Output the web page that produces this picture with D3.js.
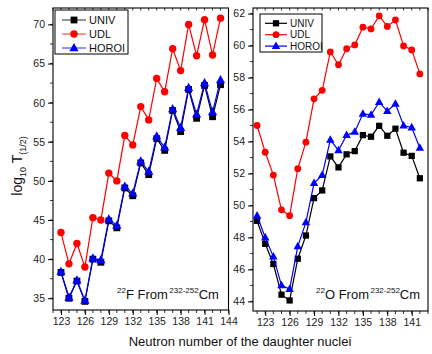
<!DOCTYPE html>
<html><head><meta charset="utf-8">
<script src="https://cdn.jsdelivr.net/npm/d3@7"></script>
<style>body{margin:0;background:#fff}svg{display:block}text{font-family:"Liberation Sans",Arial,sans-serif}</style>
</head><body><svg id="c" width="432" height="354"></svg>
<script>
// ---- data ----
const seriesNames = ["UNIV", "UDL", "HOROI"];
const nLeft = [123,124,125,126,127,128,129,130,131,132,133,134,135,136,137,138,139,140,141,142,143];
const leftUNIV  = [38.3,35.0,37.2,34.6,40.0,39.6,44.9,44.0,49.1,48.1,52.3,50.8,55.4,53.9,59.0,56.3,61.7,58.0,62.2,58.2,62.3];
const leftUDL   = [43.4,39.4,42.0,39.0,45.3,45.0,51.0,50.0,55.8,54.6,59.5,57.8,63.1,61.4,66.9,64.1,70.0,66.0,70.6,66.1,70.8];
const leftHOROI = [38.4,35.1,37.3,34.7,40.1,39.9,45.1,44.3,49.3,48.4,52.5,51.2,55.7,54.3,59.2,56.8,61.9,58.5,62.5,58.8,62.9];
const nRight = [122,123,124,125,126,127,128,129,130,131,132,133,134,135,136,137,138,139,140,141,142];
const rightUNIV  = [49.04,47.6,46.34,44.42,44.06,46.67,48.12,50.46,50.94,53.07,52.38,53.2,53.4,54.4,54.3,54.98,54.36,54.8,53.3,53.1,51.7];
const rightUDL   = [55.0,53.33,51.9,49.73,49.36,52.3,53.96,56.67,57.2,59.6,58.8,59.8,60.04,61.15,61.04,61.86,61.2,61.6,59.98,59.73,58.23];
const rightHOROI = [49.36,48.0,46.8,45.0,44.77,47.44,48.94,51.4,51.9,54.1,53.45,54.4,54.6,55.73,55.67,56.46,55.9,56.36,55.0,54.88,53.6];
const leftYTicks = [35,40,45,50,55,60,65,70];
const rightYTicks = [44,46,48,50,52,54,56,58,60,62];
const xTicksLeft = [123,126,129,132,135,138,141,144];
const xTicksRight = [123,126,129,132,135,138,141];

const colors = {UNIV:"#000000", UDL:"#ff0000", HOROI:"#0000ff"};
const svg = d3.select("#c");

function panel(opt){
  const g = svg.append("g");
  const x = d3.scaleLinear().domain(opt.xd).range(opt.xr);
  const y = d3.scaleLinear().domain(opt.yd).range(opt.yr);
  const [x0,x1] = opt.xr, [y1,y0] = opt.yr;
  const xMinor = d3.range(Math.ceil(opt.xd[0]), Math.floor(opt.xd[1])+1);
  const yMinor = d3.range(Math.ceil(opt.yd[0]/opt.yminor)*opt.yminor, opt.yd[1], opt.yminor);
  g.selectAll(".xm").data(xMinor).join("line")
    .attr("x1",d=>x(d)).attr("x2",d=>x(d)).attr("y1",y1).attr("y2",y1+3).attr("stroke","#000").attr("stroke-width",0.8);
  g.selectAll(".xt").data(xMinor).join("line")
    .attr("x1",d=>x(d)).attr("x2",d=>x(d)).attr("y1",y0).attr("y2",y0+2.5).attr("stroke","#000").attr("stroke-width",0.8);
  g.selectAll(".ym").data(yMinor).join("line")
    .attr("x1",x0-3).attr("x2",x0).attr("y1",d=>y(d)).attr("y2",d=>y(d)).attr("stroke","#000").attr("stroke-width",0.8);
  const xa = g.append("g").attr("transform",`translate(0,${y1})`)
    .call(d3.axisBottom(x).tickValues(opt.xt).tickFormat(d3.format("d")).tickSize(5).tickSizeOuter(0));
  const ya = g.append("g").attr("transform",`translate(${x0},0)`)
    .call(d3.axisLeft(y).tickValues(opt.yt).tickFormat(d3.format("d")).tickSize(5).tickSizeOuter(0));
  [xa,ya].forEach(a=>{a.select(".domain").remove();a.selectAll("line").attr("stroke","#000");
    a.selectAll("text").attr("fill","#222").style("font-size","10.5px").style("font-family","'Liberation Sans',Arial,sans-serif");});
  ya.selectAll("text").attr("x",-8);
  g.append("rect").attr("x",x0).attr("y",y0).attr("width",x1-x0).attr("height",y1-y0)
    .attr("fill","none").attr("stroke","#000").attr("stroke-width",1.1);
  const line = d3.line().x(d=>x(d[0])).y(d=>y(d[1]));
  opt.series.forEach(s=>{
    const pts = opt.n.map((n,i)=>[n,s.v[i]]);
    const c = colors[s.name];
    g.append("path").datum(pts).attr("d",line).attr("fill","none").attr("stroke",c).attr("stroke-width",1.2);
    drawMarkers(g, pts.map(p=>[x(p[0]),y(p[1])]), s.name, c, opt.ms);
  });
  const L = opt.legend;
  g.append("rect").attr("x",L.x).attr("y",L.y).attr("width",L.w).attr("height",L.h)
    .attr("fill","#fff").attr("stroke","#000").attr("stroke-width",1);
  seriesNames.forEach((nm,i)=>{
    const yy = L.y + L.pad + i*L.dy;
    g.append("line").attr("x1",L.x+L.l0).attr("x2",L.x+L.l1).attr("y1",yy).attr("y2",yy)
      .attr("stroke",colors[nm]).attr("stroke-width",1.2).attr("stroke-opacity",opt.legendOpacity);
    drawMarkers(g,[[L.x+(L.l0+L.l1)/2,yy]],nm,colors[nm],opt.ms);
    g.append("text").attr("x",L.x+L.l1+3).attr("y",yy).attr("dy","0.36em")
      .style("font-size",L.fs+"px").attr("fill","#111").text(nm);
  });
  const t = g.append("text").attr("x",opt.ann.x).attr("y",opt.ann.y).style("font-size","13px").attr("fill","#111");
  t.append("tspan").text(opt.ann.a).style("font-size","8px").attr("dy","-6");
  t.append("tspan").text(opt.ann.b).attr("dy","6");
  t.append("tspan").text("232-252").style("font-size","8px").attr("dy","-6").attr("dx","1.5");
  t.append("tspan").text("Cm").attr("dy","6");
}

function drawMarkers(g, pts, name, c, k){
  if(name==="UNIV"){
    g.selectAll(null).data(pts).join("rect").attr("x",d=>d[0]-3.4*k).attr("y",d=>d[1]-3.4*k)
      .attr("width",6.8*k).attr("height",6.8*k).attr("fill",c);
  } else if(name==="UDL"){
    g.selectAll(null).data(pts).join("circle").attr("cx",d=>d[0]).attr("cy",d=>d[1]).attr("r",3.7*k).attr("fill",c);
  } else {
    g.selectAll(null).data(pts).join("path").attr("transform",d=>`translate(${d[0]},${d[1]}) scale(${k})`)
      .attr("d","M0,-5L4.6,3.2L-4.6,3.2Z").attr("fill",c);
  }
}

panel({xd:[122,144], xr:[53,228.5], yd:[33.5,72.1], yr:[310,8], xt:xTicksLeft, yt:leftYTicks, yminor:2.5,
  n:nLeft, series:[{name:"UNIV",v:leftUNIV},{name:"UDL",v:leftUDL},{name:"HOROI",v:leftHOROI}], ms:1,
  legend:{x:55,y:10,w:73,h:44,pad:10,dy:14,l0:7,l1:31,fs:11}, legendOpacity:0.7,
  ann:{x:117,y:299,a:"22",b:"F From"}});
panel({xd:[121.5,143], xr:[253,428], yd:[43.4,62.35], yr:[311,8], xt:xTicksRight, yt:rightYTicks, yminor:1,
  n:nRight, series:[{name:"UNIV",v:rightUNIV},{name:"UDL",v:rightUDL},{name:"HOROI",v:rightHOROI}], ms:0.92,
  legend:{x:260,y:14,w:62,h:38,pad:9.3,dy:11.4,l0:5,l1:27,fs:10}, legendOpacity:1,
  ann:{x:316,y:299,a:"22",b:"O From"}});

svg.append("text").attr("x",240).attr("y",346).attr("text-anchor","middle").style("font-size","13px").attr("fill","#111")
  .text("Neutron number of the daughter nuclei");
const yt = svg.append("text").attr("transform","translate(22,166) rotate(-90)").attr("text-anchor","middle")
  .style("font-size","14px").attr("fill","#111");
yt.append("tspan").text("log");
yt.append("tspan").text("10").style("font-size","9px").attr("dy","4");
yt.append("tspan").text(" T").attr("dy","-4");
yt.append("tspan").text("(1/2)").style("font-size","9px").attr("dy","4");
</script></body></html>
